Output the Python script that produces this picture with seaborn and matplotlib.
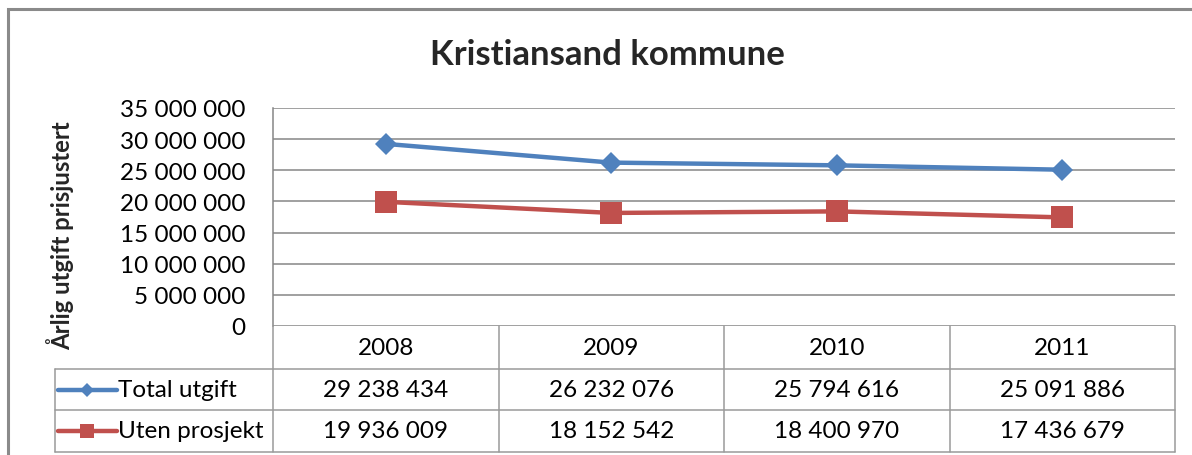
import numpy as np
import pandas as pd
import matplotlib
matplotlib.use("Agg")
import matplotlib.pyplot as plt
import seaborn as sns
from matplotlib.patches import Rectangle
from matplotlib.lines import Line2D
from matplotlib.transforms import blended_transform_factory

# ---- data ----
years = ["2008", "2009", "2010", "2011"]
total_utgift = [29238434, 26232076, 25794616, 25091886]
uten_prosjekt = [19936009, 18152542, 18400970, 17436679]
series_names = ["Total utgift", "Uten prosjekt"]
title_text = "Kristiansand kommune"
ylabel_text = "Årlig utgift prisjustert"
yticks = [0, 5000000, 10000000, 15000000, 20000000, 25000000, 30000000, 35000000]


def fmt(v):
    return f"{int(v):,}".replace(",", " ")


df = pd.DataFrame({
    "pos": list(range(len(years))) * 2,
    "value": total_utgift + uten_prosjekt,
    "series": [series_names[0]] * len(years) + [series_names[1]] * len(years),
})

sns.set_theme(style="white")
plt.rcParams["font.family"] = ["Lato", "DejaVu Sans"]

W, H = 1192, 456
fig = plt.figure(figsize=(W / 100, H / 100), dpi=100)


def fx(px):
    return px / W


def fy(py):
    return 1 - py / H


FS = 17.5
L, R, T, B = 273, 1175, 109, 327
ax = fig.add_axes([fx(L), fy(B), (R - L) / W, (B - T) / H])

colors = {series_names[0]: "#4F81BD", series_names[1]: "#C0504D"}
markers = {series_names[0]: "D", series_names[1]: "s"}
sns.lineplot(data=df, x="pos", y="value", hue="series", style="series",
             markers=markers, dashes=False, palette=colors, linewidth=3.2,
             markeredgewidth=0, legend=False, ax=ax, zorder=3)
msizes = {series_names[0]: 11.2, series_names[1]: 15.5}
for line, name in zip(ax.lines, series_names):
    line.set_markersize(msizes[name])

ax.set_xlim(-0.5, len(years) - 0.5)
ax.set_ylim(0, 35000000)
ax.set_yticks(yticks)
ax.set_yticklabels([fmt(v) for v in yticks], fontsize=FS, color="#000000")
ax.set_xticks([])
ax.set_xlabel("")
ax.set_ylabel("")
ax.tick_params(axis="y", length=0, pad=20)
ax.yaxis.grid(True, color="#868686", linewidth=1.1)
ax.set_axisbelow(True)
for s in ["top", "right", "bottom"]:
    ax.spines[s].set_visible(False)
ax.spines["left"].set_color("#868686")
ax.spines["left"].set_linewidth(1.1)

# ---- data table beneath the axis ----
tr = blended_transform_factory(ax.transData, fig.transFigure)
line_kw = dict(color="#9a9a9a", linewidth=1.1, transform=fig.transFigure)
rows_y = [327, 370, 411, 453]
leg_left = 55
for yy in rows_y[1:]:
    fig.add_artist(Line2D([fx(leg_left), fx(R)], [fy(yy), fy(yy)], **line_kw))
n = len(years)
for b in np.arange(-0.5, n, 1.0):
    fig.add_artist(Line2D([b, b], [fy(rows_y[0]), fy(rows_y[-1])], color="#9a9a9a",
                          linewidth=1.1, transform=tr))
fig.add_artist(Line2D([fx(leg_left), fx(leg_left)], [fy(rows_y[1]), fy(rows_y[-1])], **line_kw))

txt_kw = dict(fontsize=FS, ha="center", va="center", color="#000000")
for i, yr in enumerate(years):
    fig.text(i, fy((rows_y[0] + rows_y[1]) / 2), yr, transform=tr, **txt_kw)
for r, vals in enumerate([total_utgift, uten_prosjekt]):
    yc = fy((rows_y[r + 1] + rows_y[r + 2]) / 2)
    for i, v in enumerate(vals):
        fig.text(i, yc, fmt(v), transform=tr, **txt_kw)
    name = series_names[r]
    fig.add_artist(Line2D([fx(58), fx(117)], [yc, yc], color=colors[name], linewidth=3.2,
                          transform=fig.transFigure))
    fig.add_artist(Line2D([fx(87)], [yc], color=colors[name], marker=markers[name],
                          markersize=7.5 if markers[name] == "D" else 10,
                          markeredgewidth=0, transform=fig.transFigure))
    fig.text(fx(118), yc, name, fontsize=FS, ha="left", va="center", color="#000000")

# ---- title and y label ----
fig.text(fx(607), fy(55), title_text, fontsize=25, fontweight="bold", ha="center", va="center")
fig.text(fx(60), fy(236), ylabel_text, fontsize=17.2, fontweight="bold", rotation=90,
         ha="center", va="center")

# ---- outer chart frame ----
fig.add_artist(Rectangle((fx(8), fy(470)), fx(1220) - fx(8), fy(10) - fy(470),
                         fill=False, edgecolor="#8a8a8a", linewidth=2.2,
                         transform=fig.transFigure, clip_on=False))

fig.savefig("out.png", dpi=100)
